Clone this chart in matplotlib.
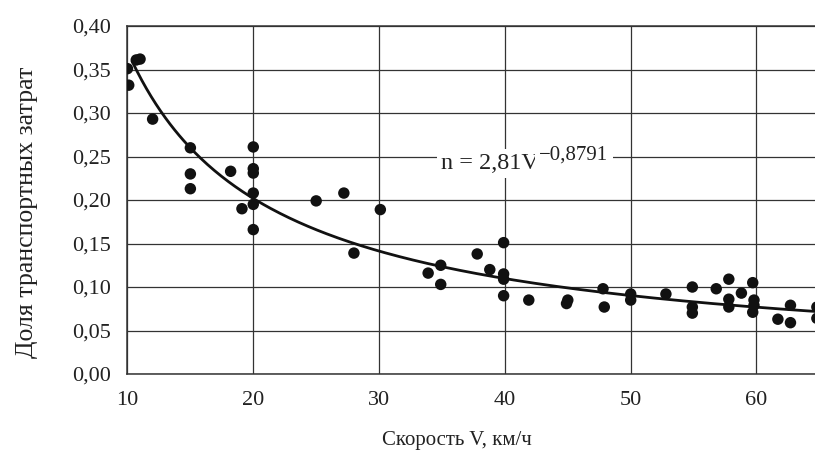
import numpy as np
import matplotlib
matplotlib.use("Agg")
import matplotlib.pyplot as plt

# measured points: speed V (km/h) and share of transport costs
speed = [10.0, 10.1, 10.7, 11.0, 12.0, 15.0, 15.0, 15.0, 18.2, 19.1,
         20.0, 20.0, 20.0, 20.0, 20.0, 20.0, 25.0, 27.2, 28.0, 30.1,
         33.9, 34.9, 34.9, 37.8, 38.8, 39.9, 39.9, 39.9, 39.9, 41.9,
         44.9, 45.0, 47.8, 47.9, 50.0, 50.0, 52.8, 54.9, 54.9, 54.9,
         56.8, 57.8, 57.8, 57.8, 58.8, 59.7, 59.8, 59.8, 59.7, 61.7,
         62.7, 62.7, 64.8, 64.8]
share = [0.351, 0.332, 0.361, 0.362, 0.293, 0.260, 0.230, 0.213, 0.233, 0.190,
         0.261, 0.236, 0.231, 0.208, 0.195, 0.166, 0.199, 0.208, 0.139, 0.189,
         0.116, 0.125, 0.103, 0.138, 0.120, 0.151, 0.115, 0.109, 0.090, 0.085,
         0.081, 0.085, 0.098, 0.077, 0.092, 0.085, 0.092, 0.100, 0.077, 0.070,
         0.098, 0.109, 0.086, 0.077, 0.093, 0.105, 0.085, 0.079, 0.071, 0.063,
         0.079, 0.059, 0.077, 0.064]

# power trend shown on the chart: n = 2.81 * V^-0.8791
coef = 2.81
power = -0.8791

x_ticks = [10, 20, 30, 40, 50, 60]
y_ticks = [0.0, 0.05, 0.10, 0.15, 0.20, 0.25, 0.30, 0.35, 0.40]
y_labels = ["0,00", "0,05", "0,10", "0,15", "0,20", "0,25", "0,30", "0,35", "0,40"]


def main():
    plt.rcParams["font.family"] = ["Liberation Serif", "DejaVu Serif"]

    fig = plt.figure(figsize=(8.15, 4.51), dpi=100)
    ax = fig.add_axes([0.1564, 0.1707, 0.8436, 0.7716])

    v = np.linspace(10.4, 66, 300)
    ax.plot(v, coef * v ** power, color="#111111", lw=2.0, zorder=3)
    ax.scatter(speed, share, s=68, color="#111111", edgecolors="none", zorder=4)

    ax.set_xlim(10, 64.65)
    ax.set_ylim(0, 0.40)
    ax.set_xticks(x_ticks)
    ax.set_yticks(y_ticks)
    ax.set_yticklabels(y_labels)
    ax.tick_params(length=0, labelsize=16, colors="#222222")
    ax.tick_params(axis="x", pad=12)
    ax.tick_params(axis="y", pad=12)

    ax.grid(True, color="#333333", lw=0.9, zorder=1)
    ax.set_axisbelow(True)
    for side in ["left", "bottom", "top"]:
        ax.spines[side].set_color("#333333")
        ax.spines[side].set_linewidth(1.1)
    ax.spines["right"].set_visible(False)

    # trend equation with a larger superscript, both on white boxes
    main_txt = ax.text(34.9, 0.2356, "n = 2,81V", fontsize=17.5,
                       ha="left", va="baseline", color="#222222", zorder=5,
                       bbox=dict(facecolor="white", edgecolor="none", pad=3))
    ax.annotate("\u22120,8791", xy=(1, 1), xycoords=main_txt,
                xytext=(0.5, 5.5), textcoords="offset points",
                ha="left", va="top", fontsize=15, color="#222222", zorder=5,
                bbox=dict(facecolor="white", edgecolor="none", pad=3))

    ax.set_xlabel("Скорость V, км/ч", fontsize=15, color="#222222")
    ax.set_ylabel("Доля транспортных затрат", fontsize=18.5, color="#222222")
    ax.xaxis.set_label_coords(0.479, -0.165)
    ax.yaxis.set_label_coords(-0.130, 0.466)

    fig.savefig("out.png", dpi=100)


if __name__ == "__main__":
    main()
